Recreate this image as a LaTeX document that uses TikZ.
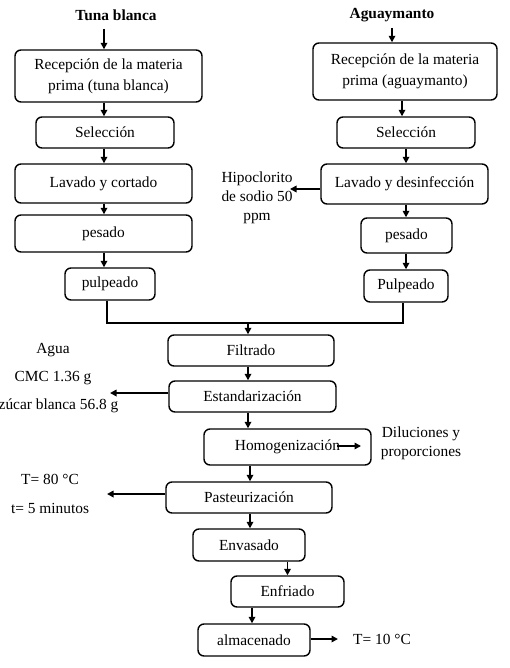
\documentclass[tikz,border=0pt]{standalone}
\usepackage{fontspec}
\setmainfont{Liberation Serif}
\usetikzlibrary{
  calc,
  arrows.meta,
  positioning}

\begin{document}
\begin{tikzpicture}[x=1pt,y=-1pt]
  \tikzset{proc box/.style={draw,
                            rectangle,
                            color=black,
                            line width=1.4pt,
                            rounded corners=6pt,
                            inner sep=0pt,
                            align=center,
                            font=\fontsize{15.4}{21}\selectfont},
           side text/.style={align=center,
                             inner sep=0pt,
                             font=\fontsize{15.4}{#1}\selectfont},
           flow/.style={-{Triangle[length=6.5pt,width=6.5pt]},
                        line width=1.6pt}
           }

%%%%%%%%%%%%%%%%%%%%%%%%%%%%%%%%%%%%%%%%%%%%%%%%%%%%%%%%%%%%%%%%%%%%%%%%%%%%%%

\useasboundingbox (0,0) rectangle (510,668);
%%\draw [step=10,thin,gray!25] (0,0) grid (510,668);

%%%%%%%%%%%%%%%%%%%%%%%%%%%%%%%%%%%%%%%%%%%%%%%%%%%%%%%%%%%%%%%%%%%%%%%%%%%%%%

\node[inner sep=0pt,font=\fontsize{15.4}{18}\selectfont\bfseries] (TB) at (116,15) {Tuna blanca};
\node[inner sep=0pt,font=\fontsize{15.4}{18}\selectfont\bfseries] (AG) at (392,15) {Aguaymanto};

\coordinate (LX) at (104,0);
\coordinate (RX) at (406,0);
\coordinate (TBA) at (104,29);
\coordinate (AGA) at (392,28);

\node[proc box,minimum width=187,minimum height=52] (RTB) at (108.5,76) {Recepción de la materia\\prima (tuna blanca)};
\node[proc box,minimum width=138,minimum height=31] (STB) at (105,132.5) {Selección};
\node[proc box,minimum width=177,minimum height=39] (LTB) at (103.5,183.5) {Lavado y cortado};
\node[proc box,minimum width=177,minimum height=37] (PTB) at (103.5,233.5) {pesado};
\node[proc box,minimum width=90,minimum height=32] (PUT) at (110,284) {pulpeado};

\node[proc box,minimum width=184,minimum height=57] (RAG) at (405,71.5) {Recepción de la materia\\prima (aguaymanto)};
\node[proc box,minimum width=138,minimum height=31] (SAG) at (406,132.5) {Selección};
\node[proc box,minimum width=167,minimum height=40] (LAG) at (404.5,184) {Lavado y desinfección};
\node[proc box,minimum width=91,minimum height=35] (PAG) at (406.5,235.5) {pesado};
\node[proc box,minimum width=84,minimum height=32] (PUA) at (406,286) {Pulpeado};

\node[side text=19] (HIP) at (257,198) {Hipoclorito\\de sodio 50\\ppm};

%%%%%%%%%%%%%%%%%%%%%%%%%%%%%%%%%%%%%%%%%%%%%%%%%%%%%%%%%%%%%%%%%%%%%%%%%%%%%%

\node[proc box,minimum width=166,minimum height=31] (FIL) at (251,350.5) {Filtrado};
\node[proc box,minimum width=167,minimum height=31] (EST) at (252.5,396.5) {Estandarización};
\node[proc box,minimum width=167,minimum height=36] (HOM) at (287.5,447) {Homogenización};
\node[proc box,minimum width=166,minimum height=31] (PAS) at (249,497.5) {Pasteurización};
\node[proc box,minimum width=112,minimum height=32] (ENV) at (249,545) {Envasado};
\node[proc box,minimum width=113,minimum height=31] (ENF) at (287.5,591.5) {Enfriado};
\node[proc box,minimum width=112,minimum height=32] (ALM) at (254,640) {almacenado};

\node[side text=28] (AGU) at (53,378) {Agua\\CMC 1.36 g\\Azúcar blanca 56.8 g};
\node[side text=19] (DIL) at (421,443.5) {Diluciones y\\proporciones};
\node[side text=29] (TEM) at (50,493.5) {T= 80 °C\\t= 5 minutos};
\node[side text=18] (T10) at (382,639) {T= 10 °C};

%%%%%%%%%%%%%%%%%%%%%%%%%%%%%%%%%%%%%%%%%%%%%%%%%%%%%%%%%%%%%%%%%%%%%%%%%%%%%%

\coordinate (JL) at (107,323);
\coordinate (JR) at (403,323);
\coordinate (JM) at (248,323);
\coordinate (HIPE) at (290,189);
\coordinate (AGUE) at (110,393);
\coordinate (HA) at (337,446);
\coordinate (HB) at (361,446);
\coordinate (TEME) at (107,494);
\coordinate (ALME) at (338,639);

\draw[flow]  (TBA) -- (RTB.north -| TBA);
\draw[flow]  (RTB.south -| LX) -- (STB.north -| LX);
\draw[flow]  (STB.south -| LX) -- (LTB.north -| LX);
\draw[flow]  (LTB.south -| LX) -- (PTB.north -| LX);
\draw[flow]  (PTB.south -| LX) -- (PUT.north -| LX);

\draw[flow]  (AGA) -- (RAG.north -| AGA);
\draw[flow]  ($(RAG.south)+(-3,0)$) -- ($(SAG.north)+(-4,0)$);
\draw[flow]  (SAG.south -| RX) -- (LAG.north -| RX);
\draw[flow]  (LAG.south -| RX) -- (PAG.north -| RX);
\draw[flow]  (PAG.south -| RX) -- (PUA.north -| RX);
\draw[flow]  (LAG.west |- HIPE) -- (HIPE);

\draw[line width=1.6pt]  (PUT.south -| JL) -- (JL) -- (JR) -- (PUA.south -| JR);
\draw[flow]  (JM) -- (FIL.north -| JM);
\draw[flow]  (FIL.south -| JM) -- (EST.north -| JM);
\draw[flow]  (EST.west |- AGUE) -- (AGUE);
\draw[flow]  (EST.south -| JM) -- ($(HOM.north -| JM)$);
\draw[flow]  (HA) -- (HB);
\draw[flow]  ($(HOM.south -| PAS)+(1,0)$) -- ($(PAS.north)+(1,0)$);
\draw[flow]  (PAS.west |- TEME) -- (TEME);
\draw[flow]  ($(PAS.south)+(1,0)$) -- ($(ENV.north)+(1,0)$);
\draw[flow]  (ENV.south -| ENF) -- (ENF.north);
\draw[flow]  ($(ENF.south -| ALM)+(-2,0)$) -- ($(ALM.north)+(-2,0)$);
\draw[flow]  (ALM.east |- ALME) -- (ALME);

%%%%%%%%%%%%%%%%%%%%%%%%%%%%%%%%%%%%%%%%%%%%%%%%%%%%%%%%%%%%%%%%%%%%%%%%%%%%%%

\end{tikzpicture}
\end{document}
